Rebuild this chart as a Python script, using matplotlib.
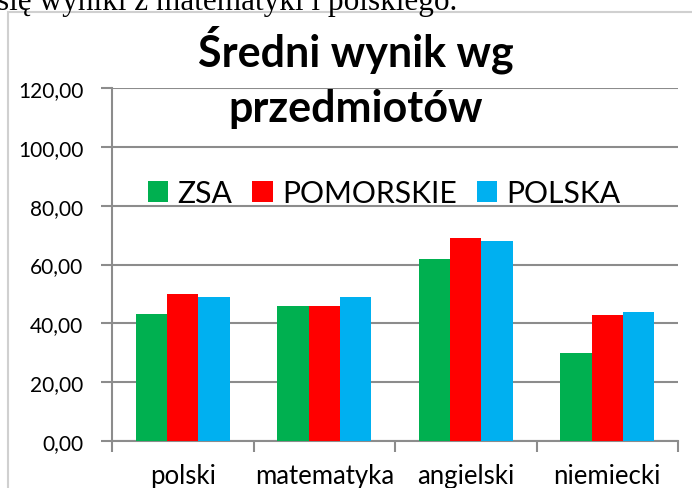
import matplotlib
matplotlib.use("Agg")
import matplotlib.pyplot as plt
from matplotlib.patches import Patch, Rectangle
import numpy as np

# dane
przedmioty = ["polski", "matematyka", "angielski", "niemiecki"]
zsa = [43.1, 45.8, 62.0, 29.9]
pomorskie = [49.9, 45.9, 69.0, 42.9]
polska = [48.9, 48.9, 67.9, 43.9]
serie = ["ZSA", "POMORSKIE", "POLSKA"]
kolory = ["#00B050", "#FF0000", "#00B0F0"]
yticks = [0, 20, 40, 60, 80, 100, 120]
ytick_labels = ["0,00", "20,00", "40,00", "60,00", "80,00", "100,00", "120,00"]

W, H = 692, 489
font = "Lato"
grid_col = "#8c8c8c"

fig = plt.figure(figsize=(W / 100, H / 100), dpi=100)

# fragment tekstu dokumentu nad wykresem
fig.text(-3 / W, 1 - 10 / H, "się wyniki z matematyki i polskiego.",
         family="Liberation Serif", fontsize=22.5, va="baseline", ha="left")

# ramka wykresu
fig.patches.append(Rectangle((8 / W, -0.1), 1.0, 1 - 13 / H + 0.1,
                             transform=fig.transFigure, fill=False,
                             edgecolor="#d0d0d0", linewidth=1.5))

ax = fig.add_axes([112 / W, 47 / H, 566 / W, 353 / H])
ax.set_facecolor("none")

x = np.arange(len(przedmioty))
bw = 0.221
for i, (vals, col) in enumerate(zip([zsa, pomorskie, polska], kolory)):
    ax.bar(x + (i - 1) * bw, vals, width=bw, color=col, zorder=3)

ax.set_xlim(-0.5, len(przedmioty) - 0.5)
ax.set_ylim(0, 120)
ax.set_yticks(yticks)
ax.set_yticklabels(ytick_labels, family=font, fontsize=15)
ax.yaxis.grid(True, color=grid_col, linewidth=1.5, zorder=0)

ax.set_xticks(np.arange(len(przedmioty) + 1) - 0.5)
ax.set_xticklabels([])
ax.set_xticks(x, minor=True)
ax.set_xticklabels(przedmioty, minor=True, family=font, fontsize=18.5)
ax.tick_params(axis="x", which="minor", length=0, pad=16)
ax.tick_params(axis="x", which="major", length=8, width=1.5, color=grid_col)
ax.tick_params(axis="y", length=8, width=1.5, color=grid_col, pad=12.5)

for s in ["top", "right"]:
    ax.spines[s].set_visible(False)
for s in ["left", "bottom"]:
    ax.spines[s].set_color(grid_col)
    ax.spines[s].set_linewidth(1.5)

# tytuł
fig.text(356 / W, 1 - 67 / H, "Średni wynik wg", family=font, weight="bold",
         fontsize=31, ha="center", va="baseline")
fig.text(356 / W, 1 - 122 / H, "przedmiotów", family=font, weight="bold",
         fontsize=31, ha="center", va="baseline")

# legenda
handles = [Patch(facecolor=c, edgecolor="none") for c in kolory]
fig.legend(handles, serie, loc="center", bbox_to_anchor=(384 / W, 1 - 194 / H),
           ncol=3, frameon=False, prop={"family": font, "size": 21.7},
           handlelength=0.68, handleheight=0.68, handletextpad=0.3,
           columnspacing=0.67, borderpad=0)

fig.savefig("out.png", dpi=100)
